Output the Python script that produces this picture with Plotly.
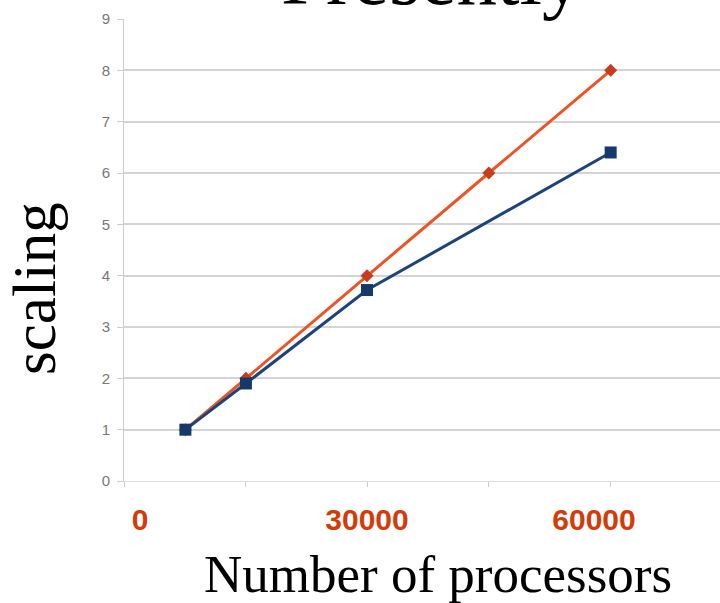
import plotly.graph_objects as go

# Data (x in the scale given by the red tick labels)
ideal_x = [6000, 14000, 30000, 46100, 62200]
ideal_y = [1, 2, 4, 6, 8]
measured_x = [6000, 14000, 30000, 62200]
measured_y = [1.0, 1.9, 3.72, 6.4]

x_tick_vals = [0, 30000, 60000]
x_tick_text = ["0", "30000", "60000"]
y_tick_vals = list(range(0, 10))

W, H = 720, 603
ML, MR, MT, MB = 124, 0, 19, 122
PW, PH = W - ML - MR, H - MT - MB

fig = go.Figure()
fig.add_trace(go.Scatter(
    x=ideal_x, y=ideal_y, mode="lines+markers",
    line=dict(color="rgb(236,84,40)", width=3),
    marker=dict(symbol="diamond", size=10, color="rgb(200,60,30)"),
    showlegend=False,
))
fig.add_trace(go.Scatter(
    x=measured_x, y=measured_y, mode="lines+markers",
    line=dict(color="rgb(28,68,120)", width=3),
    marker=dict(symbol="square", size=12, color="rgb(20,58,105)"),
    showlegend=False,
))

fig.update_layout(
    width=W, height=H,
    margin=dict(l=ML, r=MR, t=MT, b=MB, pad=0),
    paper_bgcolor="white", plot_bgcolor="white",
    xaxis=dict(
        range=[-2115, 76650],
        tickmode="array", tickvals=x_tick_vals, ticktext=x_tick_text,
        ticks="", showgrid=False, zeroline=False,
        showline=True, linecolor="#dddddd", linewidth=1,
        tickfont=dict(family="Liberation Sans, Arial", size=30, color="rgb(210,60,10)", weight="bold"),
        ticklabelstandoff=12,
        minor=dict(tick0=-2115, dtick=16060, ticks="outside", ticklen=5, tickcolor="#cccccc", showgrid=False),
    ),
    yaxis=dict(
        range=[0, 9], tickmode="array", tickvals=y_tick_vals,
        ticks="outside", ticklen=6, tickcolor="#cccccc",
        showgrid=True, gridcolor="#d4d4d4", gridwidth=1.5,
        zeroline=False, showline=True, linecolor="#cccccc", linewidth=1,
        tickfont=dict(family="Liberation Sans, Arial", size=15, color="#777777"),
        ticklabelstandoff=4,
    ),
    annotations=[
        dict(text="Presently", xref="paper", yref="paper",
             x=(432 - ML) / PW, y=(H - MB - (-23)) / PH,
             xanchor="center", yanchor="middle", showarrow=False,
             font=dict(family="Liberation Serif, Times New Roman, serif", size=81, color="black")),
        dict(text="scaling", xref="paper", yref="paper",
             x=(34 - ML) / PW, y=(H - MB - 289) / PH, textangle=-90,
             xanchor="center", yanchor="middle", showarrow=False,
             font=dict(family="Liberation Serif, Times New Roman, serif", size=61, color="black")),
        dict(text="Number of processors", xref="paper", yref="paper",
             x=(438 - ML) / PW, y=(H - MB - 574) / PH,
             xanchor="center", yanchor="middle", showarrow=False,
             font=dict(family="Liberation Serif, Times New Roman, serif", size=53, color="black")),
    ],
)

fig.write_html("out.html")
